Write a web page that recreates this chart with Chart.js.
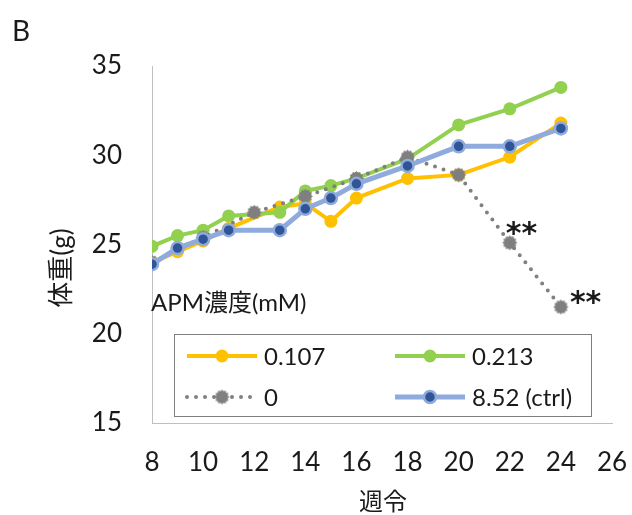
<!DOCTYPE html>
<html>
<head>
<meta charset="utf-8">
<script src="https://cdn.jsdelivr.net/npm/chart.js@4"></script>
<style>
  html, body { margin: 0; padding: 0; background: #fff; }
  #wrap { width: 632px; height: 515px; }
</style>
</head>
<body>
<div id="wrap"><canvas id="chartWeight" width="632" height="515"></canvas></div>
<script>
// 週令 (weeks) and body weight (g)
const weeks = [8, 9, 10, 11, 13, 14, 15, 16, 18, 20, 22, 24];
const w0107 = [24.0, 24.6, 25.2, 25.9, 27.1, 27.3, 26.3, 27.6, 28.7, 28.9, 29.9, 31.8];
const w0213 = [24.9, 25.5, 25.8, 26.6, 26.8, 28.0, 28.3, 28.7, 29.8, 31.7, 32.6, 33.8];
const wCtrl = [23.9, 24.8, 25.3, 25.8, 25.8, 27.0, 27.6, 28.4, 29.4, 30.5, 30.5, 31.5];
const weeksZero = [8, 10, 12, 14, 16, 18, 20, 22, 24];
const w0 = [24.0, 25.4, 26.8, 27.7, 28.7, 29.9, 28.9, 25.1, 21.5];

const seriesLabels = ['0.107', '0.213', '0', '8.52 (ctrl)'];
const sigWeeks = [22, 24];
const sigText = '**';

const xTicks = [8, 10, 12, 14, 16, 18, 20, 22, 24, 26];
const yTicks = [15, 20, 25, 30, 35];

const FONT = "Lato, 'Noto Sans CJK JP', sans-serif";

function toXY(xs, ys) {
    return xs.map((v, i) => ({ x: v, y: ys[i] }));
}

// gray blob marker like the Excel one
function gearMarker(color, r) {
    const c = document.createElement('canvas');
    const size = Math.ceil(r * 2 + 2);
    c.width = size; c.height = size;
    const g = c.getContext('2d');
    const cx = size / 2, cy = size / 2;
    g.beginPath();
    const n = 24;
    for (let i = 0; i < n; i++) {
        const a = (i / n) * Math.PI * 2;
        const rr = i % 2 === 0 ? r : r * 0.78;
        const px = cx + rr * Math.cos(a), py = cy + rr * Math.sin(a);
        if (i === 0) g.moveTo(px, py); else g.lineTo(px, py);
    }
    g.closePath();
    g.fillStyle = color;
    g.fill();
    return c;
}
const grayMark = gearMarker('#7F7F7F', 7.5);

const datasets = [
    {
        label: seriesLabels[0], data: toXY(weeks, w0107), order: 3,
        borderColor: '#FFC000', backgroundColor: '#FFC000', borderWidth: 4,
        pointRadius: 6.5, pointBackgroundColor: '#FFC000', pointBorderColor: '#FFC000', pointBorderWidth: 0
    },
    {
        label: seriesLabels[1], data: toXY(weeks, w0213), order: 2,
        borderColor: '#92D050', backgroundColor: '#92D050', borderWidth: 4,
        pointRadius: 6.5, pointBackgroundColor: '#92D050', pointBorderColor: '#92D050', pointBorderWidth: 0
    },
    {
        label: seriesLabels[2], data: toXY(weeksZero, w0), order: 1,
        borderColor: '#808080', backgroundColor: '#808080', borderWidth: 4,
        borderDash: [0, 9], borderCapStyle: 'round',
        pointStyle: grayMark, pointRadius: 7.5
    },
    {
        label: seriesLabels[3], data: toXY(weeks, wCtrl), order: 0,
        borderColor: '#8FAADC', backgroundColor: '#2F5597', borderWidth: 5,
        pointRadius: 6, pointBackgroundColor: '#2F5597', pointBorderColor: '#8FAADC', pointBorderWidth: 2.5
    }
];

function drawMarker(ctx, ds, px, py) {
    if (ds.pointStyle && typeof ds.pointStyle !== 'string') {
        const img = ds.pointStyle;
        ctx.drawImage(img, px - img.width / 2, py - img.height / 2);
        return;
    }
    ctx.beginPath();
    ctx.arc(px, py, ds.pointRadius, 0, Math.PI * 2);
    ctx.fillStyle = ds.pointBackgroundColor;
    ctx.fill();
    if (ds.pointBorderWidth) {
        ctx.lineWidth = ds.pointBorderWidth;
        ctx.strokeStyle = ds.pointBorderColor;
        ctx.stroke();
    }
}

const decor = {
    id: 'decor',
    afterDraw(chart) {
        const { ctx, scales: { x, y } } = chart;
        ctx.save();
        ctx.fillStyle = '#1a1a1a';

        // panel letter
        ctx.font = '28px ' + FONT;
        ctx.textAlign = 'left'; ctx.textBaseline = 'alphabetic';
        ctx.fillText('B', 12, 41);

        // y title
        ctx.save();
        ctx.translate(62, 268);
        ctx.rotate(-Math.PI / 2);
        ctx.textAlign = 'center'; ctx.textBaseline = 'middle';
        ctx.font = '26px ' + FONT;
        ctx.fillText('体重(g)', 0, 0);
        ctx.restore();

        // x title
        ctx.textAlign = 'center'; ctx.textBaseline = 'middle';
        ctx.font = '24px ' + FONT;
        ctx.fillText('週令', 383, 502);

        // significance marks next to the 0 mM points
        const offs = [[-4, -16], [9, -11]];
        ctx.font = "bold 30px 'DejaVu Sans', sans-serif";
        ctx.textAlign = 'left'; ctx.textBaseline = 'middle';
        sigWeeks.forEach((wk, i) => {
            const k = weeksZero.indexOf(wk);
            const px = x.getPixelForValue(wk), py = y.getPixelForValue(w0[k]);
            ctx.fillText(sigText, px + offs[i][0], py + offs[i][1] + 8);
        });

        // legend title
        ctx.font = '24px ' + FONT;
        ctx.textAlign = 'left'; ctx.textBaseline = 'middle';
        ctx.fillText('APM濃度(mM)', 151, 303);

        // legend box
        ctx.strokeStyle = '#7F7F7F';
        ctx.lineWidth = 1;
        ctx.strokeRect(174.5, 334.5, 417, 82);

        const cols = [187, 395], rows = [356, 397];
        const order = [0, 1, 2, 3];
        order.forEach((di, j) => {
            const ds = chart.data.datasets[di];
            const lx = cols[j % 2], ly = rows[Math.floor(j / 2)];
            ctx.save();
            ctx.strokeStyle = ds.borderColor;
            ctx.lineWidth = ds.borderWidth;
            ctx.lineCap = ds.borderCapStyle || 'butt';
            ctx.setLineDash(ds.borderDash || []);
            ctx.beginPath();
            ctx.moveTo(lx, ly); ctx.lineTo(lx + 70, ly);
            ctx.stroke();
            ctx.setLineDash([]);
            drawMarker(ctx, ds, lx + 35, ly);
            ctx.restore();
            ctx.fillStyle = '#1a1a1a';
            ctx.fillText(ds.label, lx + 77, ly + 1);
        });
        ctx.restore();
    }
};

const config = {
    type: 'line',
    data: { datasets },
    options: {
        responsive: false,
        animation: false,
        layout: { padding: { left: 0, top: 66, right: 20, bottom: 0 } },
        plugins: {
            legend: { display: false },
            tooltip: { enabled: false }
        },
        scales: {
            x: {
                type: 'linear', min: xTicks[0], max: xTicks[xTicks.length - 1],
                afterBuildTicks: (s) => { s.ticks = xTicks.map(v => ({ value: v })); },
                afterFit: (s) => { s.height = 92; s.paddingLeft = 0; s.paddingRight = 0; },
                grid: { color: 'rgba(0,0,0,0)', drawTicks: false },
                border: { display: true, color: '#BFBFBF', width: 1 },
                ticks: { color: '#1a1a1a', font: { size: 26, family: FONT }, padding: 24, maxRotation: 0 }
            },
            y: {
                min: yTicks[0], max: yTicks[yTicks.length - 1],
                afterBuildTicks: (s) => { s.ticks = yTicks.map(v => ({ value: v })); },
                afterFit: (s) => { s.width = 152; s.paddingTop = 0; s.paddingBottom = 0; },
                grid: { color: 'rgba(0,0,0,0)', drawTicks: false },
                border: { display: true, color: '#BFBFBF', width: 1 },
                ticks: { color: '#1a1a1a', font: { size: 26, family: FONT }, padding: 30 }
            }
        }
    },
    plugins: [decor]
};

document.addEventListener('DOMContentLoaded', () => {
    new Chart(document.getElementById('chartWeight'), config);
});
</script>
</body>
</html>
